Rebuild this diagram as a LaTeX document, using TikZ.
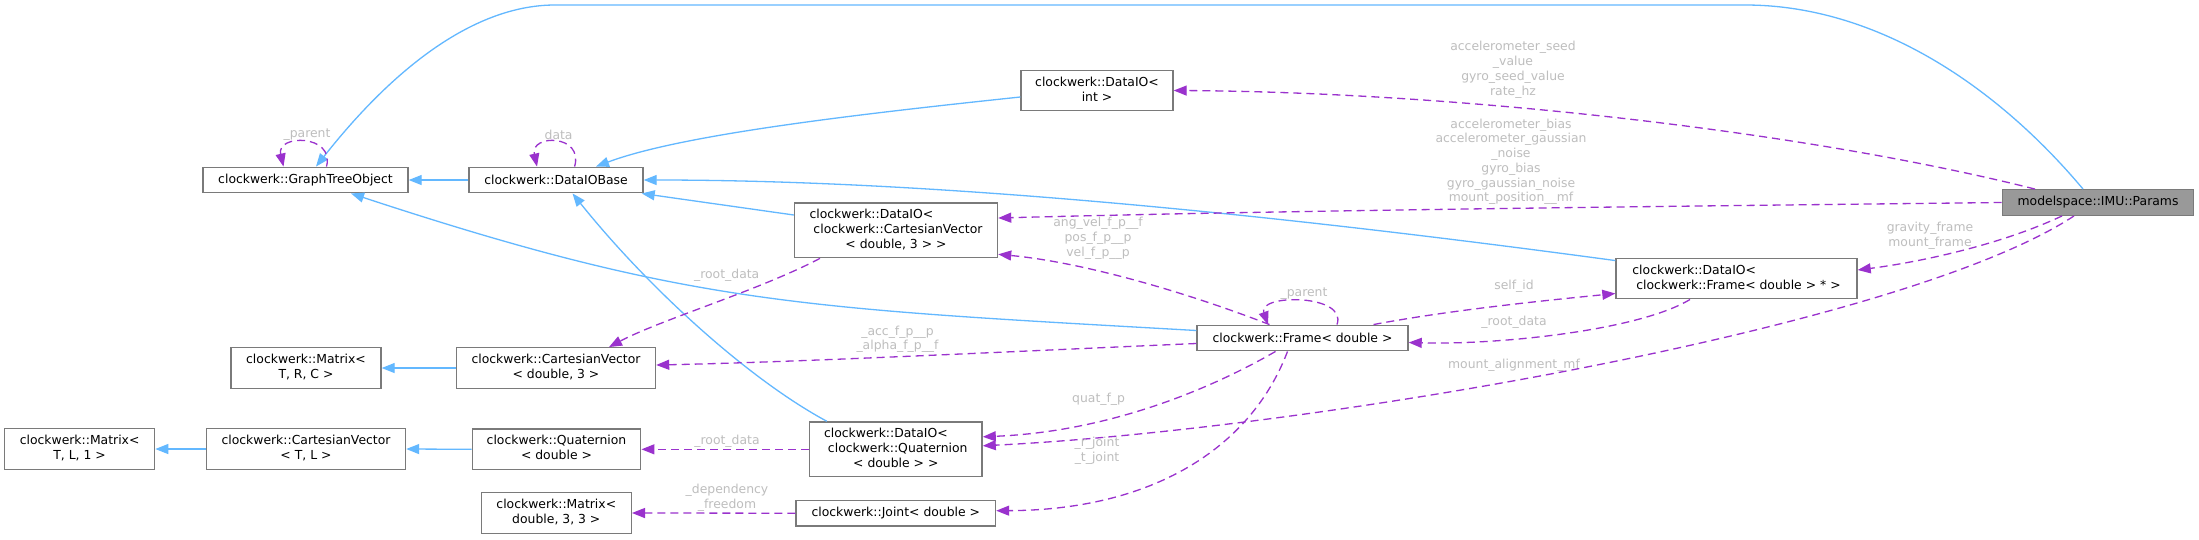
\documentclass[tikz,border=0pt]{standalone}
\usepackage{fontspec}
\setmainfont{DejaVu Sans}
\usetikzlibrary{arrows.meta}
\definecolor{edgeblue}{HTML}{63B8FF}
\definecolor{edgepurple}{HTML}{9A32CD}
\definecolor{lblgray}{HTML}{BEBEBE}
\definecolor{boxgray}{HTML}{7A7A7A}
\definecolor{hlfill}{HTML}{999999}
\newcommand\dgfont{\fontsize{12.4}{15}\selectfont}
\newcommand\lblfont{\fontsize{12.4}{14.7}\selectfont}
\newcommand\dgtwo[2]{\begin{tabular}{@{}c@{}}#1\\#2\end{tabular}}
\newcommand\dgleft[2]{\begin{tabular}{@{}l@{}}#1\\#2\end{tabular}}
\newcommand\dgthree[3]{\begin{tabular}{@{}l@{}}#1\\#2\\\multicolumn{1}{@{}c@{}}{#3}\end{tabular}}
\tikzset{
  cls/.style={draw=boxgray, fill=white, line width=1.4pt, inner sep=0pt, font=\dgfont, text=black},
  hl/.style={cls, fill=hlfill},
  lbl/.style={text=lblgray, font=\lblfont, align=center, inner sep=0pt},
  inh/.style={draw=edgeblue, line width=1.3pt, -{Triangle[length=13pt,width=10pt]}},
  usee/.style={draw=edgepurple, line width=1.3pt, dash pattern=on 8pt off 5pt, -{Triangle[length=13pt,width=10pt]}}
}
\begin{document}
\begin{tikzpicture}[x=1pt,y=-1pt]
\fill[white] (0,0) rectangle (2199,539);
\path[use as bounding box] (0,0) rectangle (2199,539);

% nodes
\node[cls, minimum width=205pt, minimum height=25.5pt] (gto) at (305.5,180) {clockwerk::GraphTreeObject};
\node[cls, minimum width=174pt, minimum height=25.5pt] (dbase) at (556,180) {clockwerk::DataIOBase};
\node[cls, minimum width=152pt, minimum height=40.5pt] (dint) at (1097,90.5) {\dgtwo{clockwerk::DataIO<}{int >}};
\node[cls, minimum width=203pt, minimum height=54.7pt] (dcv) at (896,230.3) {\dgthree{clockwerk::DataIO<}{\ clockwerk::CartesianVector}{< double, 3 > >}};
\node[cls, minimum width=241pt, minimum height=40.5pt] (dfr) at (1736.5,278.5) {\dgleft{clockwerk::DataIO<}{\ clockwerk::Frame< double > * >}};
\node[hl, minimum width=191.5pt, minimum height=25.5pt] (params) at (2098,202.5) {modelspace::IMU::Params};
\node[cls, minimum width=211pt, minimum height=25.5pt] (frame) at (1302.5,338) {clockwerk::Frame< double >};
\node[cls, minimum width=150pt, minimum height=40.5pt] (mtrc) at (306,368) {\dgtwo{clockwerk::Matrix<}{T, R, C >}};
\node[cls, minimum width=199pt, minimum height=40.5pt] (cv3) at (556,368) {\dgtwo{clockwerk::CartesianVector}{< double, 3 >}};
\node[cls, minimum width=150pt, minimum height=40.5pt] (mtl1) at (79.6,449) {\dgtwo{clockwerk::Matrix<}{T, L, 1 >}};
\node[cls, minimum width=199pt, minimum height=40.5pt] (cvtl) at (306,449) {\dgtwo{clockwerk::CartesianVector}{< T, L >}};
\node[cls, minimum width=168.5pt, minimum height=40.5pt] (quat) at (556.5,449.3) {\dgtwo{clockwerk::Quaternion}{< double >}};
\node[cls, minimum width=172.6pt, minimum height=54.7pt] (dq) at (895.8,449.3) {\dgthree{clockwerk::DataIO<}{\ clockwerk::Quaternion}{< double > >}};
\node[cls, minimum width=150pt, minimum height=40.5pt] (m33) at (556.3,513) {\dgtwo{clockwerk::Matrix<}{double, 3, 3 >}};
\node[cls, minimum width=199.4pt, minimum height=25.7pt] (joint) at (895.8,513.2) {clockwerk::Joint< double >};

% inheritance edges
\draw[inh] (dbase.west) -- (gto.east);
\draw[inh] ([xshift=-15pt]params.north) .. controls (2000,90) and (1880,5) .. (1745,5) -- (555,5) .. controls (480,5) and (400,60) .. ([xshift=10.5pt]gto.north);
\draw[inh] ([yshift=-6.5pt]dint.west) .. controls (850,115) and (680,135) .. ([xshift=40pt]dbase.north);
\draw[inh] ([yshift=15.3pt]dcv.west) -- ([xshift=-2pt]dbase.south east);
\draw[inh] ([yshift=-3pt]dfr.north west) .. controls (1300,218) and (950,180) .. (dbase.east);
\draw[inh] ([xshift=-69pt]dq.north) .. controls (750,380) and (650,290) .. ([xshift=16.5pt]dbase.south);
\draw[inh] ([yshift=7.5pt]frame.west) .. controls (800,308) and (690,305) .. ([xshift=45.5pt]gto.south);
\draw[inh] (cv3.west) -- (mtrc.east);
\draw[inh] (cvtl.west) -- (mtl1.east);
\draw[inh] (quat.west) -- (cvtl.east);

% usage edges
\draw[usee] ([xshift=21pt]gto.north) .. controls (335,134) and (276,134) .. ([xshift=-22pt]gto.north);
\node[lbl] (lparent1) at (307,134.7) {\_parent};
\draw[usee] ([xshift=18.6pt]dbase.north) .. controls (584,134) and (530,134) .. ([xshift=-19pt]dbase.north);
\node[lbl] (ldata) at (558.6,134.7) {data};

\draw[usee] ([xshift=-63pt]params.north) .. controls (1800,130) and (1450,92) .. (dint.east);
\node[lbl] (lseed) at (1513,69.7) {accelerometer\_seed\\\_value\\gyro\_seed\_value\\rate\_hz};

\draw[usee] (params.west) .. controls (1700,206) and (1300,210) .. ([yshift=12.3pt]dcv.east);
\node[lbl] (lbias) at (1511,161.7) {accelerometer\_bias\\accelerometer\_gaussian\\\_noise\\gyro\_bias\\gyro\_gaussian\_noise\\mount\_position\_\_mf};

\draw[usee] ([xshift=-33pt]frame.north) .. controls (1180,290) and (1080,262) .. ([yshift=-24pt]dcv.east);
\node[lbl] (lvel) at (1098,238.4) {ang\_vel\_f\_p\_\_f\\pos\_f\_p\_\_p\\vel\_f\_p\_\_p};

\draw[usee] ([xshift=34.5pt]frame.north) .. controls (1348,293.7) and (1257,293.7) .. ([xshift=-34.5pt]frame.north);
\node[lbl] (lparent2) at (1304,293.3) {\_parent};

\draw[usee] ([xshift=71pt]frame.north) .. controls (1450,310) and (1550,300) .. ([yshift=-15pt]dfr.west);
\node[lbl] (lself) at (1514,286.7) {self\_id};

\draw[usee] ([xshift=-46.5pt]dfr.south) .. controls (1640,330) and (1500,345) .. ([yshift=-4.5pt]frame.east);
\node[lbl] (lroot1) at (1514,322.7) {\_root\_data};

\draw[usee] ([xshift=-36pt]params.south) .. controls (2000,245) and (1920,262) .. ([yshift=8.5pt]dfr.east);
\node[lbl] (lgrav) at (1930,235.5) {gravity\_frame\\mount\_frame};

\draw[usee] ([xshift=-24pt]params.south) .. controls (1900,330) and (1300,430) .. ([yshift=3.5pt]dq.east);
\node[lbl] (lalign) at (1514,365) {mount\_alignment\_mf};

\draw[usee] ([xshift=-27pt]frame.south) .. controls (1200,395) and (1100,432) .. ([yshift=12.5pt]dq.east);
\node[lbl] (lquat) at (1098.6,399.3) {quat\_f\_p};

\draw[usee] ([xshift=-15pt]frame.south) .. controls (1250,450) and (1150,510) .. ([yshift=2.5pt]joint.east);
\node[lbl] (ljoint) at (1097,451) {\_r\_joint\\\_t\_joint};

\draw[usee] ([yshift=-5.5pt]frame.west) .. controls (1000,352) and (800,362) .. ([yshift=3pt]cv3.east);
\node[lbl] (lacc) at (897.5,339.2) {\_acc\_f\_p\_\_p\\\_alpha\_f\_p\_\_f};

\draw[usee] ([xshift=-76pt]dcv.south) .. controls (760,290) and (660,320) .. ([xshift=53pt]cv3.north);
\node[lbl] (lroot2) at (726.7,275) {\_root\_data};

\draw[usee] (dq.west) -- (quat.east);
\node[lbl] (lroot3) at (727,441) {\_root\_data};

\draw[usee] (joint.west) -- (m33.east);
\node[lbl] (ldep) at (727,497.8) {\_dependency\\\_freedom};
\end{tikzpicture}
\end{document}
